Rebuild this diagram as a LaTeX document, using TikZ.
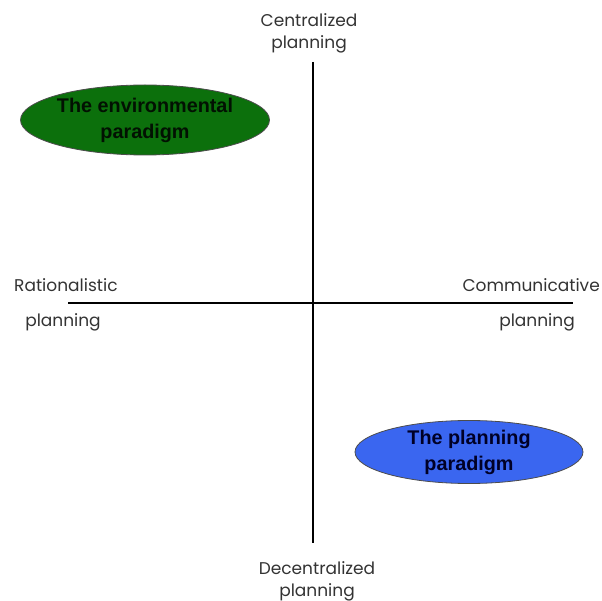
\documentclass[tikz,border=0pt]{standalone}
\usepackage{fontspec}
\setmainfont{Poppins}
\newfontfamily\arialfont{Liberation Sans}
\usetikzlibrary{shapes.geometric}
\definecolor{envgreen}{RGB}{12,112,12}
\definecolor{planblue}{RGB}{58,102,240}
\tikzset{
  axislabel/.style={font=\fontsize{17}{22}\selectfont, text=black!80, inner sep=0pt, align=center},
  paradigm/.style={ellipse, draw=black!70, line width=0.8pt, font=\arialfont\bfseries\fontsize{19.8}{26}\selectfont, align=center, inner sep=0pt},
  axis/.style={line width=1.6pt, black}
}
\begin{document}
\begin{tikzpicture}[x=1pt,y=-1pt]
\useasboundingbox (0,0) rectangle (602,601);
\coordinate (top) at (313,62);
\coordinate (bot) at (313,543);
\coordinate (lft) at (68,303);
\coordinate (rgt) at (573,303);
\draw[axis] (top) -- (bot);
\draw[axis] (lft) -- (rgt);
\node[axislabel] (cen) at (309,33) {Centralized\\planning};
\node[axislabel] (dec) at (317,581) {Decentralized\\planning};
\node[axislabel, anchor=west] (rat) at (14,285) {Rationalistic};
\node[axislabel] (ratp) at (63,322) {planning};
\node[axislabel, anchor=east] (com) at (600,285) {Communicative};
\node[axislabel] (comp) at (537,322) {planning};
\node[paradigm, fill=envgreen, text=black!85!envgreen, minimum width=231, minimum height=70] (env) at (145,120) {The environmental\\paradigm};
\node[paradigm, fill=planblue, text=black!85!blue, minimum width=228, minimum height=63] (plan) at (469,452) {The planning\\paradigm};
\end{tikzpicture}
\end{document}
